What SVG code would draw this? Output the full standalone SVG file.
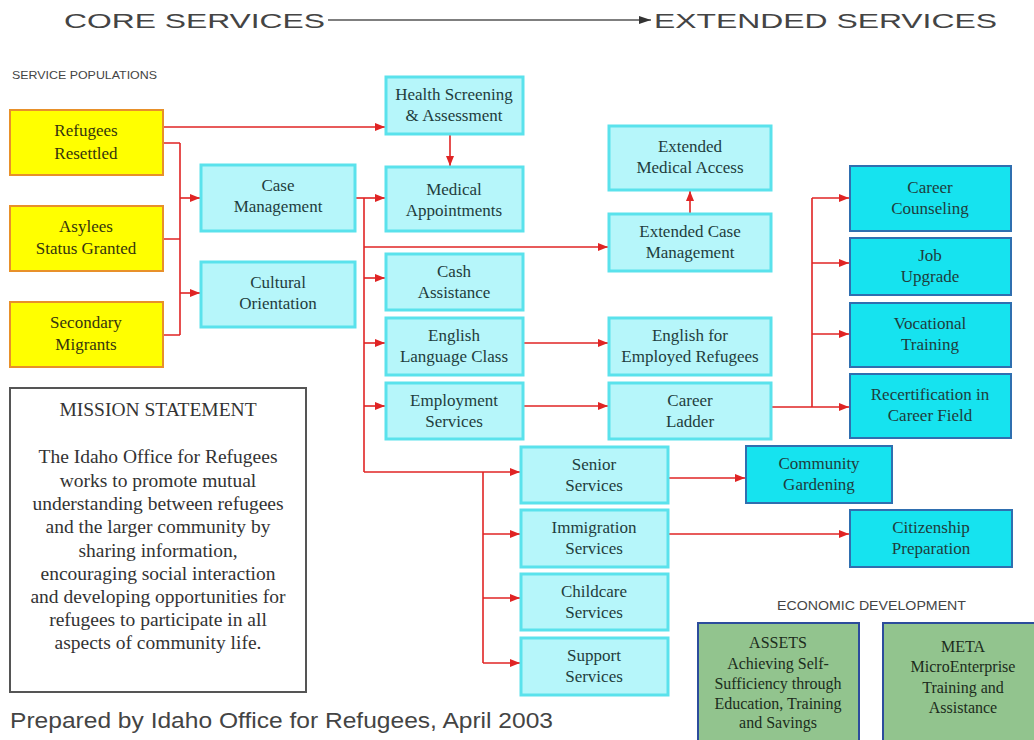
<svg xmlns="http://www.w3.org/2000/svg" width="1034" height="740" viewBox="0 0 1034 740">
<defs>
<marker id="ar" markerUnits="userSpaceOnUse" markerWidth="10" markerHeight="8" refX="10" refY="4" orient="auto"><path d="M0,0 L10,4 L0,8 Z" fill="#e02424"/></marker>
<marker id="ag" markerUnits="userSpaceOnUse" markerWidth="12" markerHeight="8" refX="12" refY="4" orient="auto"><path d="M0,0 L12,4 L0,8 Z" fill="#333"/></marker>
<style>
.lt{fill:#b6f6fa;stroke:#5ae2ec;stroke-width:3}
.dk{fill:#16e3ef;stroke:#2f6fb0;stroke-width:2}
.yl{fill:#ffff00;stroke:#e8902a;stroke-width:2}
.gr{fill:#92c48e;stroke:#2c4c9c;stroke-width:2}
.t{font-family:"Liberation Serif","Times New Roman",serif;font-size:17px;text-anchor:middle;fill:#1f3d3d}
.ty{font-family:"Liberation Serif","Times New Roman",serif;font-size:17px;text-anchor:middle;fill:#35350e}
.tg{font-family:"Liberation Serif","Times New Roman",serif;font-size:16px;text-anchor:middle;fill:#1c2c1c}
.m{font-family:"Liberation Serif","Times New Roman",serif;font-size:19.5px;text-anchor:middle;fill:#333}
.s{font-family:"Liberation Sans",Arial,sans-serif;fill:#444}
.c{fill:none;stroke:#e02424;stroke-width:1.6}
</style>
</defs>
<rect width="1034" height="740" fill="#fff"/>
<g id="header">
<text class="s" x="64" y="28" font-size="21" textLength="261" lengthAdjust="spacingAndGlyphs">CORE SERVICES</text>
<line x1="328" y1="20" x2="651" y2="20" stroke="#555" stroke-width="1.5" marker-end="url(#ag)"/>
<text class="s" x="654" y="28" font-size="21" textLength="343" lengthAdjust="spacingAndGlyphs">EXTENDED SERVICES</text>
<text class="s" x="12" y="79" font-size="10.5" textLength="145" lengthAdjust="spacingAndGlyphs">SERVICE POPULATIONS</text>
<text class="s" x="777" y="610" font-size="13" textLength="189" lengthAdjust="spacingAndGlyphs">ECONOMIC DEVELOPMENT</text>
<text class="s" x="10" y="728" font-size="22" fill="#222" textLength="543" lengthAdjust="spacingAndGlyphs">Prepared by Idaho Office for Refugees, April 2003</text>
</g>
<g id="connectors">
<path class="c" d="M163,127 H385" marker-end="url(#ar)"/>
<path class="c" d="M163,143 H180 M163,239 H180 M163,335 H180 M180,143 V335"/>
<path class="c" d="M180,198 H200" marker-end="url(#ar)"/>
<path class="c" d="M180,293 H200" marker-end="url(#ar)"/>
<path class="c" d="M355,198 H385" marker-end="url(#ar)"/>
<path class="c" d="M364,198 V472"/>
<path class="c" d="M364,247 H608" marker-end="url(#ar)"/>
<path class="c" d="M364,278 H385" marker-end="url(#ar)"/>
<path class="c" d="M364,343 H385" marker-end="url(#ar)"/>
<path class="c" d="M364,406 H385" marker-end="url(#ar)"/>
<path class="c" d="M364,472 H520" marker-end="url(#ar)"/>
<path class="c" d="M483,472 V663"/>
<path class="c" d="M483,534 H520" marker-end="url(#ar)"/>
<path class="c" d="M483,598 H520" marker-end="url(#ar)"/>
<path class="c" d="M483,663 H520" marker-end="url(#ar)"/>
<path class="c" d="M450,134 V166" marker-end="url(#ar)"/>
<path class="c" d="M690,214 V191" marker-end="url(#ar)"/>
<path class="c" d="M523,343 H608" marker-end="url(#ar)"/>
<path class="c" d="M523,406 H608" marker-end="url(#ar)"/>
<path class="c" d="M771,407 H812 M812,198 V407"/>
<path class="c" d="M812,198 H849" marker-end="url(#ar)"/>
<path class="c" d="M812,263 H849" marker-end="url(#ar)"/>
<path class="c" d="M812,334 H849" marker-end="url(#ar)"/>
<path class="c" d="M812,407 H849" marker-end="url(#ar)"/>
<path class="c" d="M668,478 H745" marker-end="url(#ar)"/>
<path class="c" d="M668,534 H849" marker-end="url(#ar)"/>
</g>
<g id="refugees"><rect class="yl" x="10" y="110" width="153" height="65"/><text class="ty" x="86" y="136">Refugees</text><text class="ty" x="86" y="159">Resettled</text></g>
<g id="asylees"><rect class="yl" x="10" y="206" width="153" height="65"/><text class="ty" x="86" y="232">Asylees</text><text class="ty" x="86" y="254">Status Granted</text></g>
<g id="secondary"><rect class="yl" x="10" y="302" width="153" height="65"/><text class="ty" x="86" y="328">Secondary</text><text class="ty" x="86" y="350">Migrants</text></g>
<g id="case-management"><rect class="lt" x="201" y="165" width="154" height="66"/><text class="t" x="278" y="191">Case</text><text class="t" x="278" y="212">Management</text></g>
<g id="cultural-orientation"><rect class="lt" x="201" y="262" width="154" height="65"/><text class="t" x="278" y="288">Cultural</text><text class="t" x="278" y="309">Orientation</text></g>
<g id="health-screening"><rect class="lt" x="386" y="77" width="137" height="57"/><text class="t" x="454" y="100">Health Screening</text><text class="t" x="454" y="121">&amp; Assessment</text></g>
<g id="medical-appointments"><rect class="lt" x="386" y="167" width="137" height="64"/><text class="t" x="454" y="195">Medical</text><text class="t" x="454" y="216">Appointments</text></g>
<g id="cash-assistance"><rect class="lt" x="386" y="254" width="137" height="56"/><text class="t" x="454" y="277">Cash</text><text class="t" x="454" y="298">Assistance</text></g>
<g id="english-class"><rect class="lt" x="386" y="318" width="137" height="57"/><text class="t" x="454" y="341">English</text><text class="t" x="454" y="362">Language Class</text></g>
<g id="employment-services"><rect class="lt" x="386" y="383" width="137" height="56"/><text class="t" x="454" y="406">Employment</text><text class="t" x="454" y="427">Services</text></g>
<g id="extended-medical"><rect class="lt" x="609" y="126" width="162" height="64"/><text class="t" x="690" y="152">Extended</text><text class="t" x="690" y="173">Medical Access</text></g>
<g id="extended-case"><rect class="lt" x="609" y="214" width="162" height="57"/><text class="t" x="690" y="237">Extended Case</text><text class="t" x="690" y="258">Management</text></g>
<g id="english-employed"><rect class="lt" x="609" y="318" width="162" height="57"/><text class="t" x="690" y="341">English for</text><text class="t" x="690" y="362">Employed Refugees</text></g>
<g id="career-ladder"><rect class="lt" x="609" y="383" width="162" height="56"/><text class="t" x="690" y="406">Career</text><text class="t" x="690" y="427">Ladder</text></g>
<g id="senior-services"><rect class="lt" x="521" y="447" width="147" height="56"/><text class="t" x="594" y="470">Senior</text><text class="t" x="594" y="491">Services</text></g>
<g id="immigration-services"><rect class="lt" x="521" y="510" width="147" height="57"/><text class="t" x="594" y="533">Immigration</text><text class="t" x="594" y="554">Services</text></g>
<g id="childcare-services"><rect class="lt" x="521" y="574" width="147" height="56"/><text class="t" x="594" y="597">Childcare</text><text class="t" x="594" y="618">Services</text></g>
<g id="support-services"><rect class="lt" x="521" y="638" width="147" height="57"/><text class="t" x="594" y="661">Support</text><text class="t" x="594" y="682">Services</text></g>
<g id="career-counseling"><rect class="dk" x="850" y="166" width="161" height="65"/><text class="t" x="930" y="193">Career</text><text class="t" x="930" y="214">Counseling</text></g>
<g id="job-upgrade"><rect class="dk" x="850" y="238" width="161" height="57"/><text class="t" x="930" y="261">Job</text><text class="t" x="930" y="282">Upgrade</text></g>
<g id="vocational-training"><rect class="dk" x="850" y="303" width="161" height="64"/><text class="t" x="930" y="329">Vocational</text><text class="t" x="930" y="350">Training</text></g>
<g id="recertification"><rect class="dk" x="850" y="374" width="161" height="64"/><text class="t" x="930" y="400">Recertification in</text><text class="t" x="930" y="421">Career Field</text></g>
<g id="community-gardening"><rect class="dk" x="746" y="446" width="146" height="57"/><text class="t" x="819" y="469">Community</text><text class="t" x="819" y="490">Gardening</text></g>
<g id="citizenship"><rect class="dk" x="850" y="510" width="162" height="57"/><text class="t" x="931" y="533">Citizenship</text><text class="t" x="931" y="554">Preparation</text></g>
<g id="assets"><rect class="gr" x="698" y="623" width="161" height="125"/><text class="tg" x="778" y="648">ASSETS</text><text class="tg" x="778" y="669">Achieving Self-</text><text class="tg" x="778" y="689">Sufficiency through</text><text class="tg" x="778" y="709">Education, Training</text><text class="tg" x="778" y="728">and Savings</text></g>
<g id="meta"><rect class="gr" x="883" y="623" width="161" height="125"/><text class="tg" x="963" y="652">META</text><text class="tg" x="963" y="672">MicroEnterprise</text><text class="tg" x="963" y="693">Training and</text><text class="tg" x="963" y="713">Assistance</text></g>
<g id="mission-statement">
<rect x="10" y="388" width="296" height="304" fill="#fff" stroke="#555" stroke-width="2"/>
<text class="m" x="158" y="416">MISSION STATEMENT</text>
<text class="m" x="158" y="463">The Idaho Office for Refugees</text>
<text class="m" x="158" y="487">works to promote mutual</text>
<text class="m" x="158" y="510">understanding between refugees</text>
<text class="m" x="158" y="533">and the larger community by</text>
<text class="m" x="158" y="557">sharing information,</text>
<text class="m" x="158" y="580">encouraging social interaction</text>
<text class="m" x="158" y="603">and developing opportunities for</text>
<text class="m" x="158" y="626">refugees to participate in all</text>
<text class="m" x="158" y="649">aspects of community life.</text>
</g>
</svg>
